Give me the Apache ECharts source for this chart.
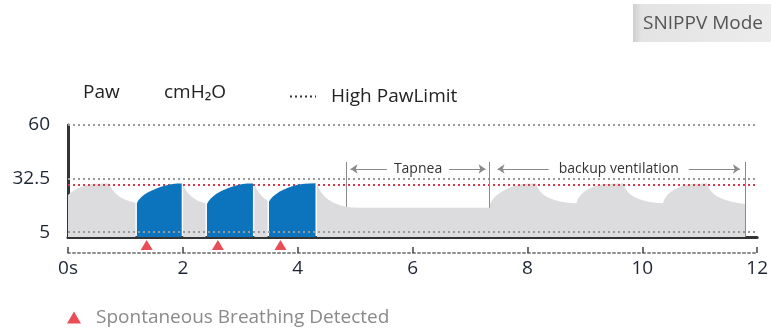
<!DOCTYPE html>
<html>
<head>
<meta charset="utf-8">
<title>SNIPPV Mode</title>
<script src="https://cdn.jsdelivr.net/npm/echarts@6/dist/echarts.min.js"></script>
<style>
  html, body { margin: 0; padding: 0; background: #fff; }
  #chart { width: 771px; height: 329px; }
</style>
</head>
<body>
<div id="chart"></div>
<script>
// axes
const timeTicks = [0, 2, 4, 6, 8, 10, 12];
const timeLabels = ['0s', '2', '4', '6', '8', '10', '12'];
const pawTicks = [5, 32.5, 60];
const highPawLimit = 29.2;

// machine pressure wave (grey), broken where the triggered breaths are
const machineParts = [
  [[0, 24], [0.05, 25.3], [0.1, 26.3], [0.16, 27.3], [0.22, 28.1], [0.3, 28.9], [0.38, 29.5], [0.48, 29.9],
   [0.72, 30], [0.74, 28.4], [0.77, 26.9], [0.81, 25.5], [0.86, 24.1], [0.92, 22.8], [0.99, 21.7],
   [1.07, 20.8], [1.175, 20.1]],
  [[2.005, 29.9], [2.02, 28.3], [2.05, 26.6], [2.09, 25], [2.14, 23.5], [2.2, 22.2], [2.27, 21],
   [2.33, 20.3], [2.395, 19.8]],
  [[3.245, 30], [3.26, 28.5], [3.29, 26.8], [3.33, 25], [3.38, 23.3], [3.43, 22], [3.475, 21.1]],
  [[4.335, 30], [4.35, 28.5], [4.38, 26.8], [4.42, 25], [4.47, 23.3], [4.53, 21.8], [4.6, 20.5],
   [4.68, 19.4], [4.76, 18.6], [4.85, 18], [4.95, 17.7], [5.1, 17.5], [7.34, 17.5],
   [7.35, 19.5], [7.38, 21.2], [7.42, 22.7], [7.47, 24.1], [7.53, 25.4], [7.6, 26.6], [7.68, 27.7],
   [7.77, 28.7], [7.87, 29.5], [7.98, 29.9], [8.15, 30],
   [8.17, 28.3], [8.2, 26.7], [8.25, 25], [8.31, 23.6], [8.38, 22.5], [8.47, 21.5], [8.57, 20.7],
   [8.7, 20.1], [8.85, 19.8],
   [8.87, 21.5], [8.9, 23], [8.94, 24.4], [8.99, 25.7], [9.05, 26.9], [9.12, 27.9], [9.2, 28.8],
   [9.3, 29.5], [9.42, 29.9], [9.67, 30],
   [9.69, 28.3], [9.72, 26.7], [9.77, 25], [9.83, 23.6], [9.9, 22.5], [9.99, 21.5], [10.09, 20.7],
   [10.22, 20.1], [10.36, 19.8],
   [10.38, 21.5], [10.41, 23], [10.45, 24.4], [10.5, 25.7], [10.56, 26.9], [10.63, 27.9], [10.71, 28.8],
   [10.81, 29.5], [10.93, 29.9], [11.13, 30],
   [11.15, 28.3], [11.18, 26.7], [11.23, 25], [11.29, 23.6], [11.36, 22.5], [11.45, 21.5], [11.55, 20.6],
   [11.67, 19.9], [11.8, 19.5]]
];

// patient triggered breaths (blue)
const triggeredParts = [
  [[1.2, 20], [1.23, 21.5], [1.27, 22.8], [1.32, 24], [1.38, 25.2], [1.45, 26.3], [1.53, 27.3],
   [1.62, 28.3], [1.72, 29.1], [1.82, 29.7], [1.9, 29.95], [1.98, 30]],
  [[2.42, 19.5], [2.45, 21], [2.49, 22.4], [2.54, 23.7], [2.6, 24.9], [2.67, 26.1], [2.75, 27.2],
   [2.84, 28.2], [2.94, 29.1], [3.04, 29.7], [3.13, 29.95], [3.22, 30]],
  [[3.5, 20.6], [3.53, 22], [3.57, 23.3], [3.62, 24.5], [3.68, 25.7], [3.75, 26.8], [3.83, 27.8],
   [3.92, 28.7], [4.02, 29.4], [4.12, 29.85], [4.2, 30], [4.31, 30.1]]
];

const spontTimes = [1.37, 2.61, 3.7];

// phase boundaries (s)
const apneaStart = 4.84;
const backupStart = 7.34;
const backupEnd = 11.8;

const font = 'Open Sans';
const chart = echarts.init(document.getElementById('chart'));

const waveSeries = (parts, color, z) => parts.map(part => ({
  type: 'line',
  data: part,
  symbol: 'none',
  lineStyle: { width: 0 },
  areaStyle: { color: color, opacity: 1, origin: 'start' },
  silent: true,
  z: z
}));

const arrowLabel = (text, pad) => ({
  show: true,
  formatter: text,
  position: 'middle',
  distance: 0,
  verticalAlign: 'middle',
  color: '#333',
  fontFamily: font,
  fontSize: 14,
  backgroundColor: '#fff',
  padding: [0, pad]
});
const thin = { color: '#8a8a8a', width: 1, type: 'solid' };

chart.setOption({
  animation: false,
  textStyle: { fontFamily: font },
  grid: { left: 68, right: 4, top: 125, bottom: 92 },
  xAxis: [
    {
      type: 'value',
      min: timeTicks[0],
      max: timeTicks[timeTicks.length - 1],
      interval: 2,
      offset: 16,
      axisLine: { onZero: false, lineStyle: { color: '#8c8c8c', width: 2, type: [2, 3] } },
      axisTick: { inside: true, length: 6, lineStyle: { color: '#444', width: 1.5 } },
      axisLabel: {
        margin: 6,
        color: '#1f2633',
        fontSize: 19,
        formatter: v => timeLabels[timeTicks.indexOf(v)]
      },
      splitLine: { show: false }
    },
    {
      type: 'value',
      min: timeTicks[0],
      max: timeTicks[timeTicks.length - 1],
      position: 'bottom',
      axisLine: { onZero: false, lineStyle: { color: '#333', width: 3 } },
      axisTick: { show: false },
      axisLabel: { show: false },
      splitLine: { show: false }
    }
  ],
  yAxis: {
    type: 'value',
    min: 2.5,
    max: 60,
    axisLine: { show: true, onZero: false, lineStyle: { color: '#333', width: 3 } },
    axisTick: { show: false },
    axisLabel: { customValues: pawTicks, color: '#1f2633', fontSize: 19, margin: 18 },
    splitLine: { show: false }
  },
  legend: [
    {
      left: 284,
      top: 82,
      selectedMode: false,
      itemWidth: 26,
      itemHeight: 14,
      textStyle: { fontSize: 19, color: '#222', padding: [0, 0, 0, 10] },
      data: [{
        name: 'High PawLimit',
        itemStyle: { opacity: 0 },
        lineStyle: { color: '#333', type: [2, 3], width: 2 }
      }]
    },
    {
      left: 62,
      top: 303,
      selectedMode: false,
      itemWidth: 14,
      itemHeight: 12,
      textStyle: { fontSize: 19, color: '#8a8a8a', padding: [0, 0, 0, 10] },
      data: [{ name: 'Spontaneous Breathing Detected', icon: 'triangle' }]
    }
  ],
  graphic: [
    { type: 'text', left: 83, top: 83, style: { text: 'Paw', fill: '#222', font: '19px "Open Sans"' } },
    { type: 'text', left: 164, top: 83, style: { text: 'cmH₂O', fill: '#222', font: '19px "Open Sans"' } },
    {
      type: 'rect', left: 633, top: 4, shape: { width: 138, height: 38 },
      style: {
        fill: new echarts.graphic.LinearGradient(0, 0, 1, 0, [
          { offset: 0, color: '#cfcfcf' }, { offset: 0.06, color: '#e3e3e3' }, { offset: 1, color: '#ececec' }
        ])
      }
    },
    { type: 'text', left: 643, top: 14, style: { text: 'SNIPPV Mode', fill: '#555', font: '19px "Open Sans"' } }
  ],
  series: [
    ...waveSeries(machineParts, '#dcdcdf', 1),
    {
      name: 'High PawLimit',
      type: 'line',
      data: [[timeTicks[0], highPawLimit], [timeTicks[timeTicks.length - 1], highPawLimit]],
      symbol: 'none',
      itemStyle: { color: '#d8384a' },
      lineStyle: { color: '#d8384a', width: 2, type: [2, 3] },
      silent: true,
      z: 2,
      markLine: {
        silent: true,
        symbol: 'none',
        label: { show: false },
        lineStyle: { color: '#9a9a9a', width: 2, type: [2, 3] },
        data: [
          ...pawTicks.map(v => ({ yAxis: v })),
          [{ coord: [apneaStart, 41], lineStyle: thin }, { coord: [apneaStart, 18] }],
          [{ coord: [backupStart, 41], lineStyle: thin }, { coord: [backupStart, 17.5] }],
          [{ coord: [backupEnd, 41], lineStyle: thin }, { coord: [backupEnd, 2.5] }],
          [
            { coord: [apneaStart + 0.08, 37.4], symbol: 'arrow', symbolSize: 7, lineStyle: thin, label: arrowLabel('Tapnea', 7) },
            { coord: [backupStart - 0.07, 37.4], symbol: 'arrow', symbolSize: 7 }
          ],
          [
            { coord: [backupStart + 0.14, 37.4], symbol: 'arrow', symbolSize: 7, lineStyle: thin, label: arrowLabel('backup ventilation', 10) },
            { coord: [backupEnd - 0.1, 37.4], symbol: 'arrow', symbolSize: 7 }
          ]
        ]
      }
    },
    ...waveSeries(triggeredParts, '#0b74bc', 3),
    {
      name: 'Spontaneous Breathing Detected',
      type: 'scatter',
      data: spontTimes.map(t => [t, -1.6]),
      symbol: 'triangle',
      symbolSize: [12, 10],
      itemStyle: { color: '#e4202a' },
      clip: false,
      silent: true,
      z: 4
    }
  ]
});
</script>
</body>
</html>
